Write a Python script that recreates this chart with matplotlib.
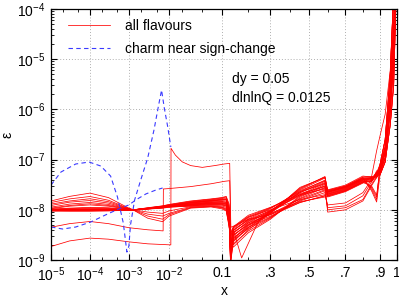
import numpy as np
import matplotlib
matplotlib.use('Agg')
import matplotlib.pyplot as plt
from matplotlib.ticker import FixedLocator, LogLocator, NullFormatter

plt.rcParams['font.family'] = ['Liberation Sans', 'DejaVu Sans']
plt.rcParams['mathtext.fontset'] = 'custom'
plt.rcParams['mathtext.rm'] = 'Liberation Sans'
plt.rcParams['mathtext.it'] = 'Liberation Sans'

# x knots shared by the bundle of red curves
x_knots = [1e-5, 3e-5, 1e-4, 3e-4, 1e-3, 1.3e-3, 3e-3, 7e-3, 1e-2, 3e-2, 0.07, 0.1,
           0.115, 0.125, 0.13, 0.14, 0.2, 0.3, 0.45, 0.585, 0.6, 0.7, 0.8, 0.85,
           0.88, 0.9, 0.93, 0.96, 0.98, 0.995]

# epsilon in units of 1e-8, one row per red curve
bundle = [
    [1.5, 1.85, 2.15, 1.75, 1.08, 1.0, 1.10, 1.20, 1.28, 1.50, 1.65, 1.75, 1.85, 1.30, 0.35, 0.46, 0.78, 1.12, 2.0, 2.6, 1.8, 2.3, 3.4, 4.5, 15, 30, 80, 600, 2e4, 1e5],
    [1.4, 1.65, 1.84, 1.55, 1.06, 1.0, 1.09, 1.19, 1.26, 1.47, 1.62, 1.72, 1.80, 1.20, 0.30, 0.44, 0.72, 1.0, 1.6, 2.0, 1.25, 1.37, 2.2, 4.0, 5.5, 7, 18, 250, 5e3, 1e5],
    [1.3, 1.5, 1.66, 1.45, 1.05, 1.0, 1.08, 1.18, 1.24, 1.44, 1.58, 1.68, 1.72, 1.10, 0.26, 0.42, 0.70, 1.08, 2.3, 3.3, 1.85, 2.35, 3.5, 3.0, 1.97, 6, 14, 150, 2e3, 5e4],
    [1.22, 1.42, 1.53, 1.36, 1.04, 1.0, 1.08, 1.17, 1.22, 1.41, 1.55, 1.62, 1.65, 1.00, 0.22, 0.40, 0.62, 0.85, 1.45, 1.8, 1.9, 2.4, 3.55, 3.6, 6.0, 5.5, 11, 90, 800, 3e4],
    [1.13, 1.3, 1.4, 1.28, 1.03, 1.0, 1.07, 1.16, 1.21, 1.38, 1.51, 1.57, 1.58, 0.92, 0.19, 0.38, 0.66, 1.05, 2.4, 3.8, 2.0, 2.5, 3.7, 3.8, 5.6, 5, 9, 50, 300, 2e4],
    [1.05, 1.18, 1.25, 1.18, 1.02, 1.0, 1.07, 1.15, 1.20, 1.35, 1.47, 1.52, 1.50, 0.85, 0.16, 0.36, 0.55, 0.80, 1.5, 2.2, 1.1, 1.2, 1.9, 3.6, 5.0, 8, 25, 500, 2e4, 1e5],
    [1.03, 1.08, 1.12, 1.1, 1.02, 1.0, 1.06, 1.14, 1.19, 1.32, 1.43, 1.46, 1.43, 0.80, 0.14, 0.34, 0.60, 0.98, 2.2, 3.5, 2.05, 2.55, 3.8, 2.8, 1.8, 7, 18, 250, 5e3, 1e5],
    [1.01, 1.04, 1.06, 1.05, 1.01, 1.0, 1.06, 1.13, 1.18, 1.29, 1.39, 1.40, 1.36, 0.75, 0.12, 0.32, 0.50, 0.75, 1.4, 1.9, 2.1, 2.65, 3.9, 4.0, 5.3, 6, 14, 150, 2e3, 5e4],
    [1.0, 1.02, 1.03, 1.03, 1.01, 1.0, 1.05, 1.12, 1.17, 1.26, 1.35, 1.35, 1.30, 0.70, 0.11, 0.30, 0.55, 0.95, 2.5, 4.3, 2.2, 2.8, 4.1, 4.2, 5.0, 5.5, 11, 90, 800, 3e4],
    [0.99, 1.0, 1.01, 1.01, 1.0, 1.0, 1.05, 1.11, 1.16, 1.23, 1.31, 1.30, 1.24, 0.65, 0.10, 0.28, 0.45, 0.72, 1.55, 2.4, 1.0, 1.1, 1.6, 3.2, 4.6, 5, 9, 50, 300, 2e4],
    [0.98, 0.99, 0.99, 1.0, 1.0, 1.0, 1.04, 1.10, 1.15, 1.20, 1.27, 1.25, 1.18, 0.60, 0.09, 0.27, 0.50, 0.92, 2.6, 4.6, 2.25, 2.85, 4.2, 2.6, 1.6, 8, 25, 500, 2e4, 1e5],
    [0.97, 0.98, 0.98, 0.99, 1.0, 1.0, 1.04, 1.09, 1.14, 1.18, 1.23, 1.20, 1.12, 0.55, 0.08, 0.25, 0.42, 0.70, 1.7, 2.8, 2.3, 2.9, 4.3, 4.4, 4.7, 7, 18, 250, 5e3, 1e5],
    [0.96, 0.97, 0.97, 0.98, 0.99, 1.0, 0.90, 0.85, 0.95, 1.15, 1.20, 1.15, 1.06, 0.52, 0.15, 0.23, 0.45, 0.88, 2.7, 4.5, 2.4, 3.0, 4.5, 4.6, 4.5, 6, 14, 150, 2e3, 5e4],
    [0.96, 0.96, 0.96, 0.97, 0.99, 1.0, 0.82, 0.75, 0.85, 1.12, 1.18, 1.12, 1.02, 0.50, 0.20, 0.21, 0.38, 0.68, 1.8, 3.0, 0.9, 1.0, 1.5, 3.0, 4.4, 5.5, 11, 90, 800, 3e4],
    [0.95, 0.95, 0.95, 0.96, 0.98, 0.99, 0.75, 0.65, 0.80, 1.10, 1.16, 1.10, 0.98, 0.48, 0.25, 0.20, 0.40, 0.85, 2.8, 4.4, 2.45, 2.95, 4.4, 2.4, 1.43, 5, 9, 50, 300, 2e4],
    [0.95, 0.94, 0.94, 0.95, 0.98, 0.99, 0.68, 0.58, 0.75, 1.08, 1.14, 1.05, 0.95, 0.45, 0.30, 0.18, 0.35, 0.65, 1.9, 3.2, 2.5, 3.1, 4.7, 4.5, 4.3, 8, 25, 500, 2e4, 1e5],
    [1.02, 1.06, 1.09, 1.07, 1.02, 1.0, 1.06, 1.15, 1.21, 1.36, 1.50, 1.58, 1.62, 1.05, 0.28, 0.45, 0.74, 1.1, 2.1, 2.9, 2.15, 2.7, 4.0, 4.1, 5.2, 7, 18, 250, 5e3, 1e5],
    [1.0, 1.01, 1.02, 1.02, 1.01, 1.0, 1.05, 1.13, 1.18, 1.30, 1.42, 1.45, 1.40, 0.78, 0.13, 0.31, 0.52, 0.82, 1.65, 2.5, 1.95, 2.45, 3.6, 3.7, 4.9, 6, 14, 150, 2e3, 5e4],
    [0.99, 0.99, 1.0, 1.0, 1.0, 1.0, 1.05, 1.12, 1.17, 1.27, 1.37, 1.37, 1.33, 0.72, 0.12, 0.26, 0.48, 0.9, 2.3, 3.9, 2.35, 2.9, 4.3, 4.3, 5.4, 5.5, 11, 90, 800, 3e4],
    [0.98, 0.98, 0.98, 0.99, 1.0, 1.0, 1.04, 1.10, 1.15, 1.24, 1.33, 1.33, 1.28, 0.68, 0.10, 0.35, 0.58, 0.93, 2.0, 3.4, 2.25, 2.75, 4.05, 4.15, 5.1, 5, 9, 50, 300, 2e4],
    [1.08, 1.22, 1.32, 1.22, 1.03, 1.0, 1.07, 1.16, 1.22, 1.40, 1.53, 1.60, 1.62, 0.95, 0.20, 0.39, 0.64, 0.96, 1.9, 2.7, 2.05, 2.6, 3.85, 3.9, 5.5, 8, 25, 500, 2e4, 1e5],
    [0.97, 0.97, 0.97, 0.98, 0.99, 1.0, 1.03, 1.08, 1.12, 1.20, 1.28, 1.27, 1.20, 0.62, 0.09, 0.24, 0.44, 0.86, 2.2, 3.7, 2.3, 2.85, 4.2, 4.25, 5.0, 6, 14, 150, 2e3, 5e4],
]

# two red curves with jumps at small x
xa = [1e-5, 3e-5, 1e-4, 3e-4, 1e-3, 3e-3, 1.1e-2, 1.11e-2, 1.4e-2, 2e-2, 3e-2, 5e-2, 0.08, 0.11, 0.127, 0.131,
      0.14, 0.2, 0.3, 0.45, 0.585, 0.6, 0.7, 0.8, 0.85, 0.88, 0.9, 0.93, 0.96, 0.98, 0.995]
ya = [0.186, 0.24, 0.273, 0.26, 0.23, 0.21, 0.2, 16.8, 12.3, 9.0, 7.6, 7.0, 7.6, 8.2, 8.4, 0.45,
      0.47, 0.65, 0.8, 1.4, 1.9, 1.9, 2.4, 3.6, 3.7, 5.0, 6.5, 16, 200, 3e3, 5e4]
xb = [1e-5, 3e-5, 1e-4, 3e-4, 1e-3, 3e-3, 7.2e-3, 7.3e-3, 1e-2, 3e-2, 0.07, 0.11, 0.127, 0.131, 0.14,
      0.172, 0.243, 0.3, 0.45, 0.585, 0.6, 0.7, 0.8, 0.85, 0.88, 0.9, 0.93, 0.96, 0.98, 0.995]
yb = [0.45, 0.53, 0.585, 0.53, 0.44, 0.40, 0.38, 2.6, 2.65, 2.9, 3.3, 3.7, 3.8, 0.35, 0.40,
      0.11, 0.58, 0.95, 2.0, 3.0, 2.3, 2.8, 4.0, 4.2, 5.2, 6.0, 14, 150, 2e3, 5e4]

# charm near sign-change (blue dashed)
xc1 = [1e-5, 2e-5, 4.3e-5, 1.05e-4, 2.5e-4, 5.5e-4, 1e-3, 1.5e-3, 2.7e-3, 4.8e-3, 7e-3]
yc1 = [0.454, 0.414, 0.454, 0.571, 0.788, 1.04, 1.25, 1.57, 2.07, 2.48, 2.72]
xc2 = [1e-5, 1.8e-5, 4.3e-5, 9.5e-5, 1.9e-4, 3.4e-4, 5.1e-4, 7.2e-4, 8.9e-4, 1e-3, 1.1e-3, 1.4e-3,
       2e-3, 3e-3, 4.3e-3, 5.6e-3, 6.6e-3, 7.7e-3, 9.3e-3, 1.1e-2]
yc2 = [3.12, 5.66, 8.17, 8.95, 7.45, 4.7, 1.8, 0.546, 0.144, 0.19, 0.5, 1.57,
       3.92, 10.8, 38.9, 122, 243, 106, 44.6, 17.8]

xticks = [1e-5, 1e-4, 1e-3, 1e-2, 0.1, 0.3, 0.5, 0.7, 0.9, 1.0]
xticklabels = ['$10^{-5}$', '$10^{-4}$', '$10^{-3}$', '$10^{-2}$', '0.1', '.3', '.5', '.7', '.9', '1']
xminor = [2e-5, 5e-5, 2e-4, 5e-4, 2e-3, 5e-3, 0.02, 0.05, 0.2, 0.4, 0.6, 0.8]
unit = 1e-8


# x axis: ln(x) + 9x
def fwd(x):
    x = np.asarray(x, dtype=float)
    return np.log(np.clip(x, 1e-300, None)) + 9.0 * x


def inv(t):
    t = np.asarray(t, dtype=float)
    u = np.minimum(t, 0.0)
    for _ in range(60):
        e = np.exp(np.clip(u, -700, 5))
        u = u - (u + 9.0 * e - t) / (1.0 + 9.0 * e)
    return np.exp(np.clip(u, -700, 5))


fig = plt.figure(figsize=(3.99, 2.98), dpi=100)
ax = fig.add_axes([0.128, 0.1275, 0.867, 0.8423])
ax.set_xscale('function', functions=(fwd, inv))
ax.set_yscale('log')

red = dict(color='#ff0000', lw=0.55)
for i, row in enumerate(bundle):
    ax.plot(x_knots, np.array(row) * unit, label='all flavours' if i == 0 else None, **red)
ax.plot(xa, np.array(ya) * unit, **red)
ax.plot(xb, np.array(yb) * unit, **red)

blue = dict(color='#3a3aff', lw=0.8, dashes=(4, 3))
ax.plot(xc1, np.array(yc1) * unit, label='charm near sign-change', **blue)
ax.plot(xc2, np.array(yc2) * unit, **blue)

ax.set_xlim(1e-5, 1.0)
ax.set_ylim(1e-9, 1e-4)
ax.xaxis.set_major_locator(FixedLocator(xticks))
ax.set_xticklabels(xticklabels)
ax.xaxis.set_minor_locator(FixedLocator(xminor))
ax.xaxis.set_minor_formatter(NullFormatter())
ax.yaxis.set_major_locator(LogLocator(base=10, numticks=10))
ax.yaxis.set_minor_locator(LogLocator(base=10, subs=np.arange(2, 10), numticks=10))
ax.yaxis.set_minor_formatter(NullFormatter())

ax.tick_params(which='both', direction='in', top=True, right=True, labelsize=10, pad=4)
ax.tick_params(which='major', length=4, width=0.8)
ax.tick_params(which='minor', length=2.5, width=0.6)
ax.grid(True, which='major', color='#b0b0b0', linestyle=(0, (1, 2)), lw=0.7)
for s in ax.spines.values():
    s.set_linewidth(0.9)

ax.set_xlabel('x', fontsize=10, labelpad=0)
ax.set_ylabel('ε', fontsize=10, labelpad=2)

ax.legend(loc='upper left', bbox_to_anchor=(0.025, 0.995), frameon=False, fontsize=10,
          handlelength=3.0, handletextpad=1.1, labelspacing=0.7, borderaxespad=0.2)
ax.text(0.522, 0.75, 'dy = 0.05\ndlnlnQ = 0.0125', transform=ax.transAxes,
        fontsize=10, va='top', ha='left', linespacing=1.45)

fig.savefig('out.png', dpi=100)
